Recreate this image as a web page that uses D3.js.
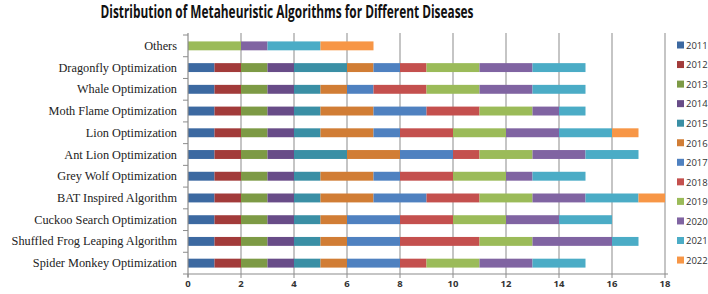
<!DOCTYPE html>
<html><head><meta charset="utf-8">
<script src="https://cdn.jsdelivr.net/npm/d3@7"></script>
<style>body{margin:0;background:#fff}svg{display:block}</style>
</head><body>
<svg id="c" width="708" height="294"></svg>
<script>
const categories = ["Others","Dragonfly Optimization","Whale Optimization","Moth Flame Optimization","Lion Optimization","Ant Lion Optimization","Grey Wolf Optimization","BAT Inspired Algorithm","Cuckoo Search Optimization","Shuffled Frog Leaping Algorithm","Spider Monkey Optimization"];
const years = ["2011","2012","2013","2014","2015","2016","2017","2018","2019","2020","2021","2022"];
// values per category, per year 2011..2022
const othersVals   = [0,0,0,0,0,0,0,0,2,1,2,2];
const dragonfly    = [1,1,1,1,2,1,1,1,2,2,2,0];
const whale        = [1,1,1,1,1,1,1,2,2,2,2,0];
const mothFlame    = [1,1,1,1,1,2,2,2,2,1,1,0];
const lion         = [1,1,1,1,1,2,1,2,2,2,2,1];
const antLion      = [1,1,1,1,2,2,2,1,2,2,2,0];
const greyWolf     = [1,1,1,1,1,2,1,2,2,1,2,0];
const bat          = [1,1,1,1,1,2,2,2,2,2,2,1];
const cuckoo       = [1,1,1,1,1,1,2,2,2,2,2,0];
const shuffledFrog = [1,1,1,1,1,1,2,3,2,3,1,0];
const spiderMonkey = [1,1,1,1,1,1,2,1,2,2,2,0];
const xTicks = [0,2,4,6,8,10,12,14,16,18];
const colors = ["#3C69A1","#A23B3A","#7D9A45","#684C88","#3A8FA5","#D17D35","#4F81C0","#C4504E","#9BBB59","#8064A2","#4BACC6","#F79646"];

const rows = [othersVals,dragonfly,whale,mothFlame,lion,antLion,greyWolf,bat,cuckoo,shuffledFrog,spiderMonkey];
const table = categories.map((c,i)=>{const o={cat:c}; years.forEach((y,j)=>o[y]=rows[i][j]); return o;});

const svg = d3.select("#c");
const L=188, R=665, T=35, B=274;
const x = d3.scaleLinear().domain([0,18]).range([L,R]);
const y = d3.scaleBand().domain(categories).range([T,B]).paddingInner(0.59).paddingOuter(0.295);
const yb = d3.scaleBand().domain(categories).range([T,B]);

// title
svg.append("text").attr("x",287).attr("y",18).attr("text-anchor","middle")
  .attr("font-family","'Liberation Sans Narrow', 'Open Sans', sans-serif").attr("font-weight","bold").attr("font-size",17.5)
  .attr("textLength",373).attr("lengthAdjust","spacingAndGlyphs").attr("fill","#111")
  .text("Distribution of Metaheuristic Algorithms for Different Diseases");

// gridlines
svg.append("g").selectAll("line").data(xTicks.filter(d=>d>0)).join("line")
  .attr("x1",d=>x(d)).attr("x2",d=>x(d)).attr("y1",T-2).attr("y2",B)
  .attr("stroke","#A6A6A6").attr("stroke-width",1.3);

// bars
const stack = d3.stack().keys(years)(table);
svg.append("g").selectAll("g").data(stack).join("g").attr("fill",(d,i)=>colors[i])
  .selectAll("rect").data(d=>d.filter(s=>s[1]>s[0])).join("rect")
  .attr("x",d=>x(d[0])).attr("width",d=>x(d[1])-x(d[0]))
  .attr("y",d=>y(d.data.cat)).attr("height",y.bandwidth());

// y axis
const ya = svg.append("g");
ya.append("line").attr("x1",L).attr("x2",L).attr("y1",T-2).attr("y2",B+3).attr("stroke","#8C8C8C").attr("stroke-width",1.2);
const edges = categories.map(c=>yb(c)).concat([B]);
ya.selectAll("line.t").data(edges).join("line").attr("class","t")
  .attr("x1",L-5).attr("x2",L).attr("y1",d=>d).attr("y2",d=>d).attr("stroke","#8C8C8C");
ya.selectAll("text").data(categories).join("text")
  .attr("x",177).attr("y",d=>yb(d)+yb.bandwidth()/2+4).attr("text-anchor","end")
  .attr("font-family","'Liberation Serif', serif").attr("font-size",12.3).attr("fill","#222")
  .text(d=>d);

// x axis
const xa = svg.append("g");
xa.append("line").attr("x1",L).attr("x2",R+3).attr("y1",B).attr("y2",B).attr("stroke","#8C8C8C").attr("stroke-width",1.2);
xa.selectAll("line.t").data(xTicks).join("line").attr("class","t")
  .attr("x1",d=>x(d)).attr("x2",d=>x(d)).attr("y1",B).attr("y2",B+4).attr("stroke","#8C8C8C");
xa.selectAll("text").data(xTicks).join("text")
  .attr("x",d=>x(d)).attr("y",B+13).attr("text-anchor","middle")
  .attr("font-family","'Open Sans', sans-serif").attr("font-weight","bold").attr("font-size",9.5).attr("fill","#333")
  .text(d=>d);

// legend
const lg = svg.append("g").selectAll("g").data(years).join("g")
  .attr("transform",(d,i)=>`translate(677,${45+i*19.55})`);
lg.append("rect").attr("x",0).attr("y",-3.5).attr("width",7).attr("height",7).attr("fill",(d,i)=>colors[i]);
lg.append("text").attr("x",9).attr("y",3.8).attr("font-family","'Open Sans', sans-serif").attr("font-size",9.5)
  .attr("fill","#333").text(d=>d);
</script>
</body></html>
